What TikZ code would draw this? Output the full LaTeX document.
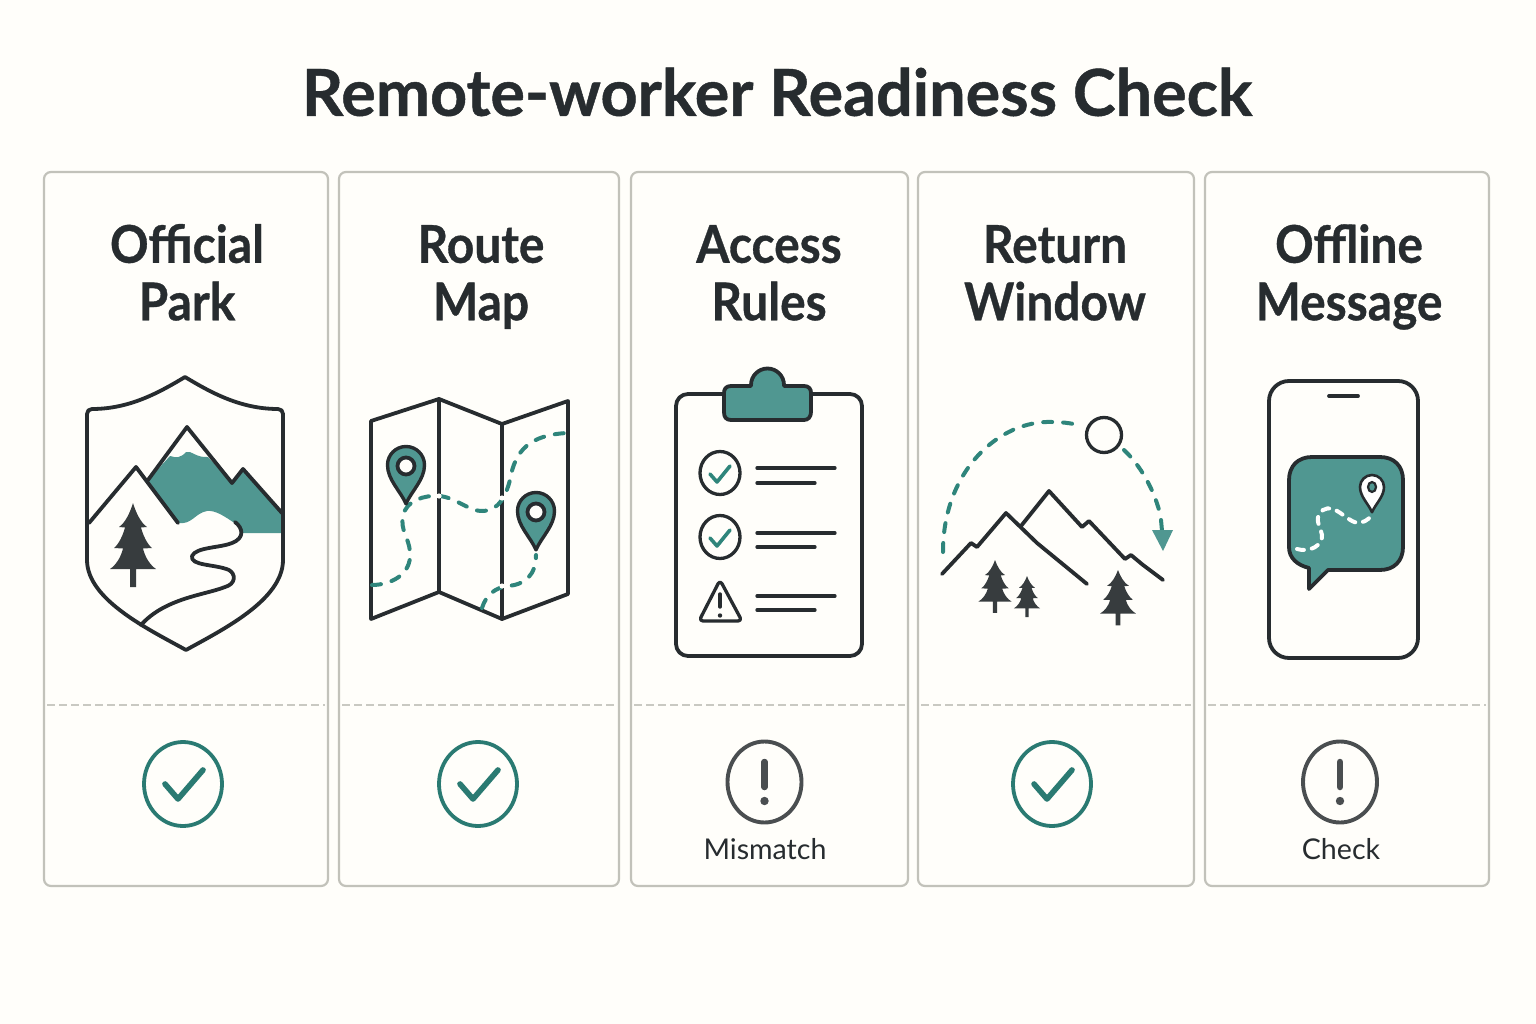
\documentclass[tikz,border=0pt]{standalone}
\usepackage{fontspec}
\setmainfont[BoldFont={Lato Bold},BoldFeatures={FakeBold=0.7}]{Lato}
\usetikzlibrary{calc}
\definecolor{bgc}{HTML}{FFFEFA}
\definecolor{ink}{HTML}{272C2F}
\definecolor{treec}{HTML}{373C3E}
\definecolor{tealf}{HTML}{509791}
\definecolor{teald}{HTML}{2F857B}
\definecolor{tealc}{HTML}{2A7A72}
\definecolor{cardl}{HTML}{C2C2BA}
\definecolor{dashl}{HTML}{C9C9C2}
\definecolor{warnc}{HTML}{4A4E50}
\newcommand{\sqz}[1]{\strut\scalebox{.92}[1]{#1}}
\tikzset{
  x=1pt,y=-1pt,
  card/.style={draw=cardl,line width=2.2pt,rounded corners=7pt,fill=bgc},
  sep/.style={draw=dashl,line width=2pt,dash pattern=on 8pt off 4pt},
  icon/.style={draw=ink,line width=3.8pt,line join=round,line cap=round},
  thin icon/.style={draw=ink,line width=3.3pt,line join=round,line cap=round},
  route/.style={draw=teald,line width=4pt,line cap=round,dash pattern=on 9pt off 11pt},
  titletext/.style={font=\fontsize{64.7}{70}\selectfont\bfseries,text=ink,inner sep=0pt},
  cardtitle/.style={font=\fontsize{52}{57.5}\selectfont\bfseries,text=ink,align=center,inner sep=0pt},
  statustext/.style={font=\fontsize{28.6}{36}\selectfont,text=ink,inner sep=0pt},
  okring/.style={draw=tealc,line width=3.8pt},
  okmark/.style={draw=tealc,line width=5.6pt,line cap=round,line join=round},
  warnring/.style={draw=warnc,line width=3.9pt},
}
\newcommand{\pinetree}[4]{% x y xscale yscale
  \fill[treec,shift={(#1,#2)},xscale=#3,yscale=#4]
   (0,0) .. controls (3,10) and (8,20) .. (14,24) -- (8,24.5) .. controls (10,32) and (14,41) .. (19,45) -- (10,45.5)
   .. controls (12,54) and (17,62) .. (23,66) -- (3,66) -- (3,84) -- (-3,84) -- (-3,66) -- (-23,66)
   .. controls (-17,62) and (-12,54) .. (-10,45.5) -- (-19,45) .. controls (-14,41) and (-10,32) .. (-8,24.5) -- (-14,24)
   .. controls (-8,20) and (-3,10) .. (0,0) -- cycle;}
\newcommand{\mappin}[5]{% x y scale fill lw
  \draw[draw=ink,line width=#5pt,line join=round,fill=#4,shift={(#1,#2)},scale=#3]
   (0,2.1) .. controls (-0.3,1.4) and (-1,0.8) .. (-1,0) arc (180:360:1) .. controls (1,0.8) and (0.3,1.4) .. (0,2.1) -- cycle;}
\begin{document}
\begin{tikzpicture}
\path[fill=bgc] (0,0) rectangle (1536,1024);
\useasboundingbox (0,0) rectangle (1536,1024);
\node[titletext] (title) at (777,92) {Remote-worker Readiness Check};
% cards
\draw[card] (44,172) rectangle (328,886);
\draw[card] (339,172) rectangle (619,886);
\draw[card] (631,172) rectangle (908,886);
\draw[card] (918,172) rectangle (1194,886);
\draw[card] (1205,172) rectangle (1489,886);
\draw[sep] (47,705) -- (325,705);
\draw[sep] (342,705) -- (616,705);
\draw[sep] (634,705) -- (905,705);
\draw[sep] (921,705) -- (1191,705);
\draw[sep] (1208,705) -- (1486,705);
\node[cardtitle] (t1) at (187,280) {\sqz{Official}\\\sqz{Park}};
\node[cardtitle] (t2) at (481,280) {\sqz{Route}\\\sqz{Map}};
\node[cardtitle] (t3) at (769,280) {\sqz{Access}\\\sqz{Rules}};
\node[cardtitle] (t4) at (1055,280) {\sqz{Return}\\\sqz{Window}};
\node[cardtitle] (t5) at (1349,280) {\sqz{Offline}\\\sqz{Message}};
% shield
\fill[bgc] (185,377) .. controls (160,392) and (130,409) .. (92,409) .. controls (89,409) and (87,411) .. (87,414) -- (87,560)
  .. controls (87,600) and (150,630) .. (186,650) .. controls (222,630) and (283,600) .. (283,560) -- (283,414)
  .. controls (283,411) and (281,409) .. (278,409) .. controls (240,409) and (210,392) .. (185,377) -- cycle;
\fill[tealf] (148,480) -- (170,456) .. controls (176,458) and (181,458) .. (186,452) .. controls (191,450) and (196,458) .. (208,457)
  -- (232,483) -- (243,469) -- (282,513) -- (282,533) -- (243,533) .. controls (243,528) and (238,524) .. (233,522)
  .. controls (224,516) and (215,510) .. (207,511) .. controls (195,513) and (192,525) .. (178,523) -- cycle;
\draw[icon] (148,480) -- (187,427) -- (232,483) -- (243,469) -- (282,513);
\draw[icon] (89,523) -- (136,467) -- (178,523);
\draw[icon] (235,522) .. controls (243,528) and (245,538) .. (232,543) .. controls (220,548) and (196,547) .. (192,556)
  .. controls (190,566) and (215,564) .. (229,570) .. controls (236,574) and (236,584) .. (225,587)
  .. controls (205,595) and (165,598) .. (141,625);
\draw[icon] (185,377) .. controls (160,392) and (130,409) .. (92,409) .. controls (89,409) and (87,411) .. (87,414) -- (87,560)
  .. controls (87,600) and (150,630) .. (186,650) .. controls (222,630) and (283,600) .. (283,560) -- (283,414)
  .. controls (283,411) and (281,409) .. (278,409) .. controls (240,409) and (210,392) .. (185,377) -- cycle;
\pinetree{133}{503}{1}{1}
% map
\draw[icon,fill=bgc] (371,421) -- (439,399) -- (502,424) -- (568,401) -- (568,594) -- (502,619) -- (439,592) -- (371,619) -- cycle;
\draw[thin icon] (439,399) -- (439,592);
\draw[thin icon] (502,424) -- (502,619);
\draw[route] (372,585) .. controls (390,585) and (412,575) .. (410,552) .. controls (409,538) and (400,530) .. (403,516)
  .. controls (406,500) and (425,495) .. (439,496) .. controls (455,497) and (470,512) .. (483,511)
  .. controls (500,510) and (506,495) .. (510,480) .. controls (515,450) and (530,435) .. (567,433);
\draw[route] (482,608) .. controls (486,595) and (495,588) .. (507,586) .. controls (525,585) and (536,575) .. (536,555);
\fill[bgc] (439,496) circle (2.6);
\fill[bgc] (502,498) circle (2.6);
\fill[bgc] (502,586) circle (2.6);
\mappin{406}{465}{18.5}{tealf}{3.4}
\draw[icon,fill=bgc] (406,466) circle (8.5);
\mappin{536}{511}{18.5}{tealf}{3.4}
\draw[icon,fill=bgc] (536,512) circle (8.5);
% clipboard
\draw[icon,fill=bgc,rounded corners=12pt] (676,394) rectangle (862,656);
\draw[icon,fill=tealf] (731,386) -- (751,386) -- (751,385) arc (180:360:16.5) -- (784,386) -- (804,386) .. controls (809,386) and (811,389) .. (811,393) -- (811,412)
  .. controls (811,417) and (808,420) .. (804,420) -- (731,420) .. controls (726,420) and (724,417) .. (724,412) -- (724,393) .. controls (724,389) and (726,386) .. (731,386) -- cycle;
\draw[thin icon] (720,473) ellipse (20 and 21.5);
\draw[thin icon] (720,537) ellipse (20 and 21.5);
\draw[draw=teald,line width=3.6pt,line cap=round,line join=round] (710,474) -- (717,482) -- (730,466);
\draw[draw=teald,line width=3.6pt,line cap=round,line join=round] (710,538) -- (717,546) -- (730,530);
\draw[thin icon,rounded corners=4pt] (720,580) -- (742,621) -- (699,621) -- cycle;
\draw[thin icon,line width=3.4pt] (720,594) -- (720,607);
\fill[ink] (720,615.5) circle (2.2);
\draw[thin icon] (757,468) -- (835,468);
\draw[thin icon] (757,483) -- (815,483);
\draw[thin icon] (757,533) -- (835,533);
\draw[thin icon] (757,547) -- (815,547);
\draw[thin icon] (757,596) -- (835,596);
\draw[thin icon] (757,610) -- (815,610);
% return window
\draw[route] (943,552) .. controls (943,470) and (1000,420) .. (1052,422) .. controls (1065,422) and (1075,424) .. (1082,426);
\draw[route] (1124,450) .. controls (1140,465) and (1155,490) .. (1161,518);
\draw[line width=4pt,draw=teald,line cap=round] (1161,520) -- (1162,531);
\fill[tealf] (1152,530) -- (1173,530) -- (1163,551) -- cycle;
\draw[thin icon] (1104,435) circle (17.5);
\draw[icon] (942,574) -- (971,543) -- (977,547) -- (1006,513) -- (1037,543) -- (1087,584);
\draw[icon] (1021,526) -- (1049,491) -- (1082,527) -- (1089,521) -- (1125,559) -- (1131,555) -- (1143,565) -- (1163,580);
\pinetree{995}{560}{0.72}{0.63}
\pinetree{1027}{576}{0.57}{0.49}
\pinetree{1118}{570}{0.78}{0.66}
% phone
\draw[icon,fill=bgc,rounded corners=20pt] (1269,381) rectangle (1418,658);
\draw[icon] (1329,396) -- (1358,396);
\draw[icon,fill=tealf] (1312,457) -- (1380,457) .. controls (1394,457) and (1403,466) .. (1403,480) -- (1403,547)
  .. controls (1403,561) and (1394,570) .. (1380,570) -- (1328,570) -- (1309,589) -- (1309,568)
  .. controls (1297,565) and (1289,558) .. (1289,547) -- (1289,480) .. controls (1289,466) and (1298,457) .. (1312,457) -- cycle;
\draw[draw=white,line width=4pt,line cap=round,dash pattern=on 7pt off 8pt] (1297,549) .. controls (1310,553) and (1323,545) .. (1322,535)
  .. controls (1320,525) and (1313,518) .. (1323,510) .. controls (1335,503) and (1345,520) .. (1357,523) .. controls (1363,523) and (1368,520) .. (1371,516);
\mappin{1372}{487}{12}{white}{2.6}
\draw[draw=ink,line width=2.2pt,fill=tealf] (1372,487) ellipse (4 and 5);
% status
\draw[okring] (183,784) ellipse (39 and 42);
\draw[okmark] (165,784) -- (178,799) -- (203,770);
\draw[okring] (478,784) ellipse (39 and 42);
\draw[okmark] (460,784) -- (473,799) -- (498,770);
\draw[okring] (1052,784) ellipse (39 and 42);
\draw[okmark] (1034,784) -- (1047,799) -- (1072,770);
\draw[warnring] (764.5,782) ellipse (37 and 40.5);
\draw[warnc,line width=6.5pt,line cap=round] (764.5,762) -- (764.5,787);
\fill[warnc] (764.5,801) circle (4.2);
\draw[warnring] (1340,782) ellipse (37 and 40.5);
\draw[warnc,line width=6.5pt,line cap=round] (1340,762) -- (1340,787);
\fill[warnc] (1340,801) circle (4.2);
\node[statustext] (s3) at (765,849) {Mismatch};
\node[statustext] (s5) at (1341,849) {Check};
\end{tikzpicture}
\end{document}
